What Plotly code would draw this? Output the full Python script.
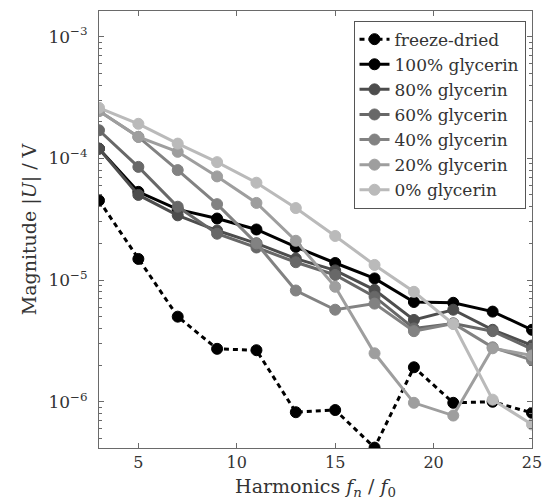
import plotly.graph_objects as go

harmonics = [3, 5, 7, 9, 11, 13, 15, 17, 19, 21, 23, 25]

freeze_dried = [4.5e-5, 1.49e-5, 5.0e-6, 2.72e-6, 2.65e-6, 8.2e-7, 8.55e-7, 4.2e-7, 1.92e-6, 9.8e-7, 1.0e-6, 8.1e-7]
glyc_100 = [1.2e-4, 5.3e-5, 3.8e-5, 3.2e-5, 2.6e-5, 1.87e-5, 1.38e-5, 1.03e-5, 6.6e-6, 6.5e-6, 5.5e-6, 3.9e-6]
glyc_80 = [1.2e-4, 5.0e-5, 3.4e-5, 2.55e-5, 2.0e-5, 1.5e-5, 1.2e-5, 8.3e-6, 4.7e-6, 5.7e-6, 3.9e-6, 2.9e-6]
glyc_60 = [1.7e-4, 8.5e-5, 4.0e-5, 2.4e-5, 1.85e-5, 1.4e-5, 1.1e-5, 7.3e-6, 4.0e-6, 4.4e-6, 3.8e-6, 2.7e-6]
glyc_40 = [2.45e-4, 1.5e-4, 8.0e-5, 4.2e-5, 2.0e-5, 8.2e-6, 5.7e-6, 6.4e-6, 3.8e-6, 4.4e-6, 2.8e-6, 2.2e-6]
glyc_20 = [2.45e-4, 1.5e-4, 1.13e-4, 7.1e-5, 4.3e-5, 2.1e-5, 8.8e-6, 2.5e-6, 9.8e-7, 7.7e-7, 2.75e-6, 2.4e-6]
glyc_0 = [2.6e-4, 1.92e-4, 1.32e-4, 9.3e-5, 6.3e-5, 3.9e-5, 2.3e-5, 1.33e-5, 8.0e-6, 4.35e-6, 1.04e-6, 6.5e-7]

series_names = ["freeze-dried", "100% glycerin", "80% glycerin", "60% glycerin",
                "40% glycerin", "20% glycerin", "0% glycerin"]
series_values = [freeze_dried, glyc_100, glyc_80, glyc_60, glyc_40, glyc_20, glyc_0]
series_colors = ["#000000", "#000000", "#4d4d4d", "#686868", "#828282", "#9e9e9e", "#bababa"]

y_tickvals = [1e-6, 1e-5, 1e-4, 1e-3]
y_ticktext = ["10<sup>−6</sup>", "10<sup>−5</sup>", "10<sup>−4</sup>", "10<sup>−3</sup>"]
y_minor_tickvals = [m * d for d in [1e-7, 1e-6, 1e-5, 1e-4, 1e-3] for m in range(2, 10)]
x_tickvals = [5, 10, 15, 20, 25]
y_range = [-6.38, -2.79]

FONT = "DejaVu Serif"

fig = go.Figure()
for name, vals, col in zip(series_names, series_values, series_colors):
    dash = "5px,4px" if name == "freeze-dried" else "solid"
    fig.add_trace(go.Scatter(
        x=harmonics, y=vals, name=name, mode="lines+markers",
        line=dict(color=col, width=3, dash=dash),
        marker=dict(color=col, size=11, line=dict(color=col, width=1)),
    ))

axis_col = "#6a6a6a"
fig.update_layout(
    width=552, height=504,
    margin=dict(l=99, r=13, t=10, b=56),
    paper_bgcolor="white", plot_bgcolor="white",
    font=dict(family=FONT, size=16, color="#333333"),
    showlegend=True,
    legend=dict(x=0.985, xanchor="right", y=0.978, yanchor="top",
                bordercolor="#555555", borderwidth=1, bgcolor="white",
                font=dict(family=FONT, size=17, color="#333333"),
                tracegroupgap=0, itemwidth=30),
    xaxis=dict(range=[3, 25], tickvals=x_tickvals, ticks="inside", ticklen=5,
               tickcolor=axis_col, showline=True, linecolor=axis_col, linewidth=1,
               mirror="allticks", showgrid=False, zeroline=False,
               tickfont=dict(family=FONT, size=16),
               title=dict(text="Harmonics <i>f<sub>n</sub></i> / <i>f</i><sub>0</sub>",
                          font=dict(family=FONT, size=19), standoff=8)),
    yaxis=dict(type="log", range=y_range, tickvals=y_tickvals, ticktext=y_ticktext,
               ticks="inside", ticklen=5, tickcolor=axis_col, showline=True,
               linecolor=axis_col, linewidth=1, mirror="allticks", showgrid=False,
               zeroline=False, tickfont=dict(family=FONT, size=17), ticklabelstandoff=7,
               minor=dict(tickvals=y_minor_tickvals, ticks="inside", ticklen=3,
                          tickcolor=axis_col, showgrid=False),
               title=dict(text="Magnitude |<i>U</i>| / V", font=dict(family=FONT, size=19),
                          standoff=6)),
)

fig.write_html("out.html")
